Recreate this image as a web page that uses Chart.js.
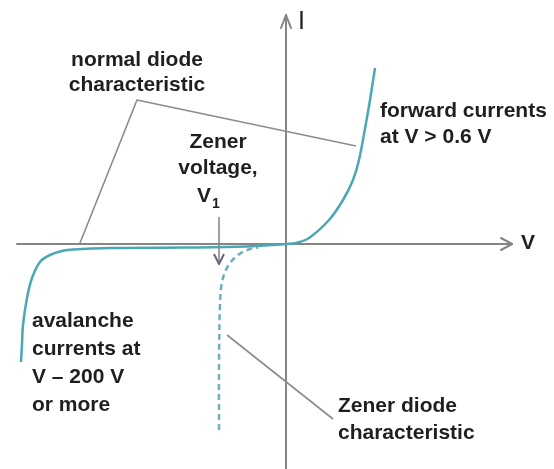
<!DOCTYPE html>
<html>
<head>
<meta charset="utf-8">
<script src="https://cdn.jsdelivr.net/npm/chart.js@4/dist/chart.umd.min.js"></script>
<style>
  html, body { margin: 0; padding: 0; background: #ffffff; }
  #wrap { width: 554px; height: 469px; position: relative; }
</style>
</head>
<body>
<div id="wrap"><canvas id="c"></canvas></div>
<script>
// I–V characteristic of a diode, drawn in schematic units (V right, I up).

// forward branch: conduction above the knee
const forwardV = [0, 1.0, 2.3, 4.3, 5.7, 6.7, 7.3, 8.0, 8.4, 8.9];
const forwardI = [0, 0.1, 0.6, 2.4, 4.4, 6.4, 8.4, 12.1, 14.4, 17.6];

// reverse branch of an ordinary diode: leakage, then avalanche
const reverseV = [-26.5, -26.4, -26.3, -25.9, -25.4, -24.6, -23.6, -21.9, -17.6, -10, -4, 0];
const reverseI = [-11.8, -10, -8.1, -5.4, -3.4, -1.8, -1.1, -0.6, -0.4, -0.35, -0.25, 0];

// reverse branch of a Zener diode: breakdown at the Zener voltage
const zenerV = [-6.7, -6.7, -6.6, -6.4, -5.8, -4.8, -3.6, -2.8];
const zenerI = [-18.6, -12, -6, -3.8, -2.2, -1.1, -0.5, -0.35];

// Zener voltage marker
const zenerVoltage = -6.7;

// axis extents
const vRange = [-28.6, 26.8];
const iRange = [-22.5, 24.4];

const teal = '#4aa8b4';
const toPoints = (xs, ys) => xs.map((x, k) => ({ x: x, y: ys[k] }));

// annotation layout (schematic units)
const layout = {
  hAxis: { from: -26.9, to: 22.6 },
  vAxis: { from: -22.5, to: 22.9 },
  zenerArrow: { top: 2.7, tip: -2.0 },
  leaders: [
    [[-20.6, 0.1], [-14.9, 14.4], [7.0, 9.8]],
    [[-5.9, -9.1], [4.7, -17.5]]
  ],
  texts: [
    { t: 'normal diode', x: -14.9, y: 17.8, align: 'center' },
    { t: 'characteristic', x: -14.9, y: 15.3, align: 'center' },
    { t: 'Zener', x: -6.8, y: 9.6, align: 'center' },
    { t: 'voltage,', x: -6.8, y: 7.0, align: 'center' },
    { t: 'forward currents', x: 9.4, y: 12.7, align: 'left' },
    { t: 'at V > 0.6 V', x: 9.4, y: 10.1, align: 'left' },
    { t: 'avalanche', x: -25.4, y: -8.3, align: 'left' },
    { t: 'currents at', x: -25.4, y: -11.1, align: 'left' },
    { t: 'V \u2013 200 V', x: -25.4, y: -13.9, align: 'left' },
    { t: 'or more', x: -25.4, y: -16.7, align: 'left' },
    { t: 'Zener diode', x: 5.2, y: -16.8, align: 'left' },
    { t: 'characteristic', x: 5.2, y: -19.5, align: 'left' }
  ],
  subLabel: { base: 'V', sub: '1', x: -8.9, y: 4.2 },
  vLabel: { t: 'V', x: 24.2, y: 0.1 },
  iLabel: { t: 'I', x: 1.2, y: 22.2 }
};

const FONT = '"Liberation Sans", Arial, sans-serif';

const diagram = {
  id: 'diagram',
  beforeDatasetsDraw(chart) {
    const ctx = chart.ctx, xs = chart.scales.x, ys = chart.scales.y;
    const px = v => xs.getPixelForValue(v), py = v => ys.getPixelForValue(v);
    ctx.save();
    ctx.strokeStyle = '#858585';
    ctx.lineWidth = 2;
    ctx.lineCap = 'round';
    ctx.lineJoin = 'round';
    // V axis with open arrowhead
    ctx.beginPath();
    ctx.moveTo(px(layout.hAxis.from), py(0));
    ctx.lineTo(px(layout.hAxis.to), py(0));
    ctx.stroke();
    const hx = px(layout.hAxis.to), hy = py(0);
    ctx.beginPath();
    ctx.moveTo(hx - 11, hy - 6);
    ctx.lineTo(hx, hy);
    ctx.lineTo(hx - 11, hy + 6);
    ctx.stroke();
    // I axis with open arrowhead
    ctx.beginPath();
    ctx.moveTo(px(0), py(layout.vAxis.from));
    ctx.lineTo(px(0), py(layout.vAxis.to));
    ctx.stroke();
    const vx = px(0), vy = py(layout.vAxis.to);
    ctx.beginPath();
    ctx.moveTo(vx - 5, vy + 13);
    ctx.lineTo(vx, vy);
    ctx.lineTo(vx + 5, vy + 13);
    ctx.stroke();
    ctx.restore();
  },
  afterDatasetsDraw(chart) {
    const ctx = chart.ctx, xs = chart.scales.x, ys = chart.scales.y;
    const px = v => xs.getPixelForValue(v), py = v => ys.getPixelForValue(v);
    ctx.save();
    // leader lines
    ctx.strokeStyle = '#8c8c8c';
    ctx.lineWidth = 1.6;
    ctx.lineJoin = 'round';
    layout.leaders.forEach(pts => {
      ctx.beginPath();
      pts.forEach((p, k) => k ? ctx.lineTo(px(p[0]), py(p[1])) : ctx.moveTo(px(p[0]), py(p[1])));
      ctx.stroke();
    });
    // Zener voltage arrow
    const ax = px(zenerVoltage), at = py(layout.zenerArrow.top), ab = py(layout.zenerArrow.tip);
    ctx.strokeStyle = '#8a8490';
    ctx.lineWidth = 1.6;
    ctx.beginPath();
    ctx.moveTo(ax, at);
    ctx.lineTo(ax, ab);
    ctx.stroke();
    ctx.strokeStyle = '#6e6478';
    ctx.lineWidth = 2;
    ctx.beginPath();
    ctx.moveTo(ax - 5, ab - 10);
    ctx.lineTo(ax, ab);
    ctx.lineTo(ax + 5, ab - 10);
    ctx.stroke();
    // text
    ctx.fillStyle = '#1f1f1f';
    ctx.font = 'bold 21px ' + FONT;
    ctx.textBaseline = 'alphabetic';
    layout.texts.forEach(o => {
      ctx.textAlign = o.align;
      ctx.fillText(o.t, px(o.x), py(o.y));
    });
    // V with subscript 1
    const s = layout.subLabel;
    ctx.textAlign = 'left';
    ctx.fillText(s.base, px(s.x), py(s.y));
    const w = ctx.measureText(s.base).width;
    ctx.font = 'bold 14px ' + FONT;
    ctx.fillText(s.sub, px(s.x) + w + 1, py(s.y) + 6);
    // axis names
    ctx.font = 'bold 21px ' + FONT;
    ctx.textAlign = 'center';
    ctx.textBaseline = 'middle';
    ctx.fillText(layout.vLabel.t, px(layout.vLabel.x), py(layout.vLabel.y));
    ctx.font = '25px ' + FONT;
    ctx.textAlign = 'left';
    ctx.fillText(layout.iLabel.t, px(layout.iLabel.x), py(layout.iLabel.y));
    ctx.restore();
  }
};

new Chart(document.getElementById('c'), {
  type: 'scatter',
  data: {
    datasets: [
      { label: 'forward', data: toPoints(forwardV, forwardI), showLine: true,
        borderColor: teal, borderWidth: 2.5, pointRadius: 0, tension: 0.35 },
      { label: 'reverse', data: toPoints(reverseV, reverseI), showLine: true,
        borderColor: teal, borderWidth: 2.5, pointRadius: 0, tension: 0.35 },
      { label: 'zener', data: toPoints(zenerV, zenerI), showLine: true,
        borderColor: '#6fb0bb', borderWidth: 2.5, borderDash: [6, 4],
        pointRadius: 0, tension: 0.35 }
    ]
  },
  options: {
    responsive: true,
    maintainAspectRatio: false,
    animation: false,
    layout: { padding: 0 },
    plugins: { legend: { display: false }, tooltip: { enabled: false } },
    scales: {
      x: { type: 'linear', min: vRange[0], max: vRange[1], display: false },
      y: { type: 'linear', min: iRange[0], max: iRange[1], display: false }
    }
  },
  plugins: [diagram]
});
</script>
</body>
</html>
